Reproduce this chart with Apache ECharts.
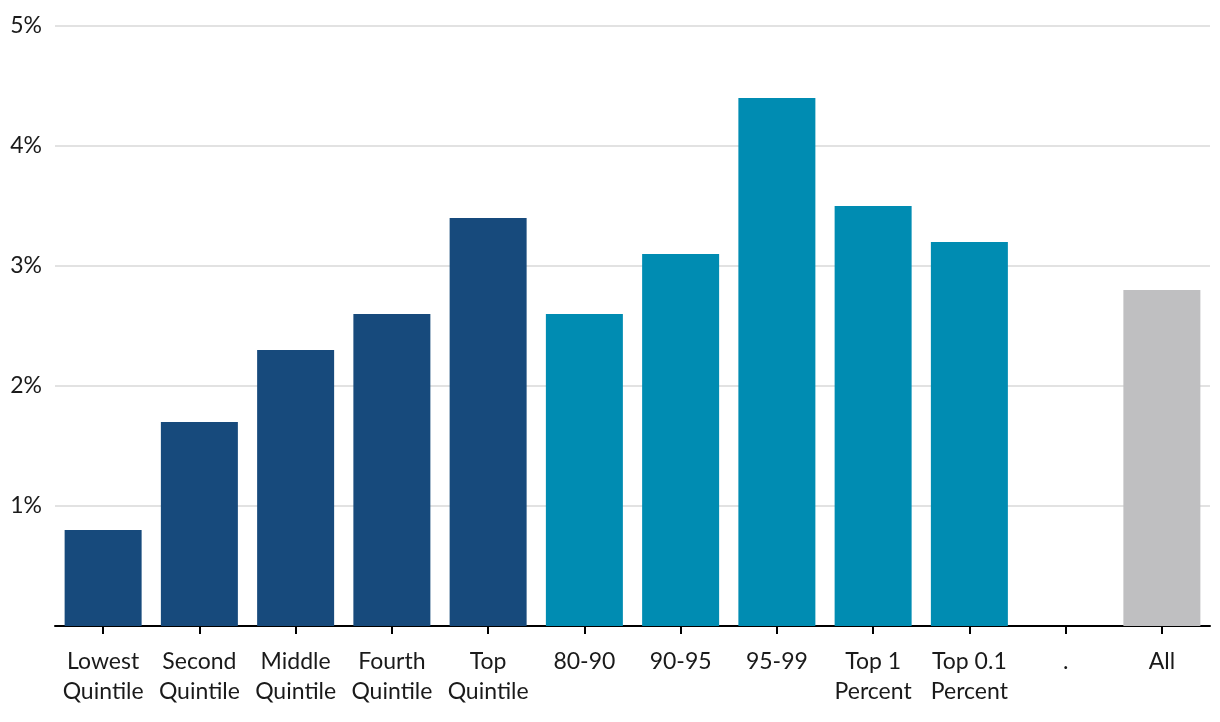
<!DOCTYPE html>
<html>
<head>
<meta charset="utf-8">
<script src="https://cdn.jsdelivr.net/npm/echarts@6/dist/echarts.min.js"></script>
<style>html,body{margin:0;padding:0;background:#fff}#c{width:1220px;height:722px}</style>
</head>
<body>
<div id="c"></div>
<script>
const categories = ['Lowest\nQuintile','Second\nQuintile','Middle\nQuintile','Fourth\nQuintile','Top\nQuintile','80-90','90-95','95-99','Top 1\nPercent','Top 0.1\nPercent','.','All'];
const values = [0.8, 1.7, 2.3, 2.6, 3.4, 2.6, 3.1, 4.4, 3.5, 3.2, 0, 2.8];
const groups = ['q','q','q','q','q','t','t','t','t','t','t','a'];
const yTicks = [0, 1, 2, 3, 4, 5];
const colors = {q:'#174a7c', t:'#008cb2', a:'#bfbfc1'};

const chart = echarts.init(document.getElementById('c'));
chart.setOption({
  animation: false,
  grid: {left: 55, right: 10, top: 26, bottom: 96},
  xAxis: {
    type: 'category',
    data: categories,
    axisLine: {show: true, lineStyle: {color: '#000', width: 2}},
    axisTick: {show: true, alignWithLabel: true, length: 8, lineStyle: {color: '#000', width: 2}},
    axisLabel: {fontFamily: 'Lato', fontSize: 23, color: '#1a1a1a', lineHeight: 30, margin: 21, verticalAlign: 'top', interval: 0}
  },
  yAxis: {
    type: 'value',
    min: yTicks[0], max: yTicks[yTicks.length - 1], interval: 1,
    axisLine: {show: false},
    axisTick: {show: false},
    splitLine: {lineStyle: {color: '#d9d9d9', width: 1.5}},
    axisLabel: {fontFamily: 'Lato', fontSize: 23, color: '#1a1a1a', margin: 13,
      formatter: v => v === 0 ? '' : v + '%'}
  },
  series: [{
    type: 'bar',
    barWidth: '80%',
    data: values.map((v, i) => ({value: v, itemStyle: {color: colors[groups[i]]}}))
  }]
});
</script>
</body>
</html>
